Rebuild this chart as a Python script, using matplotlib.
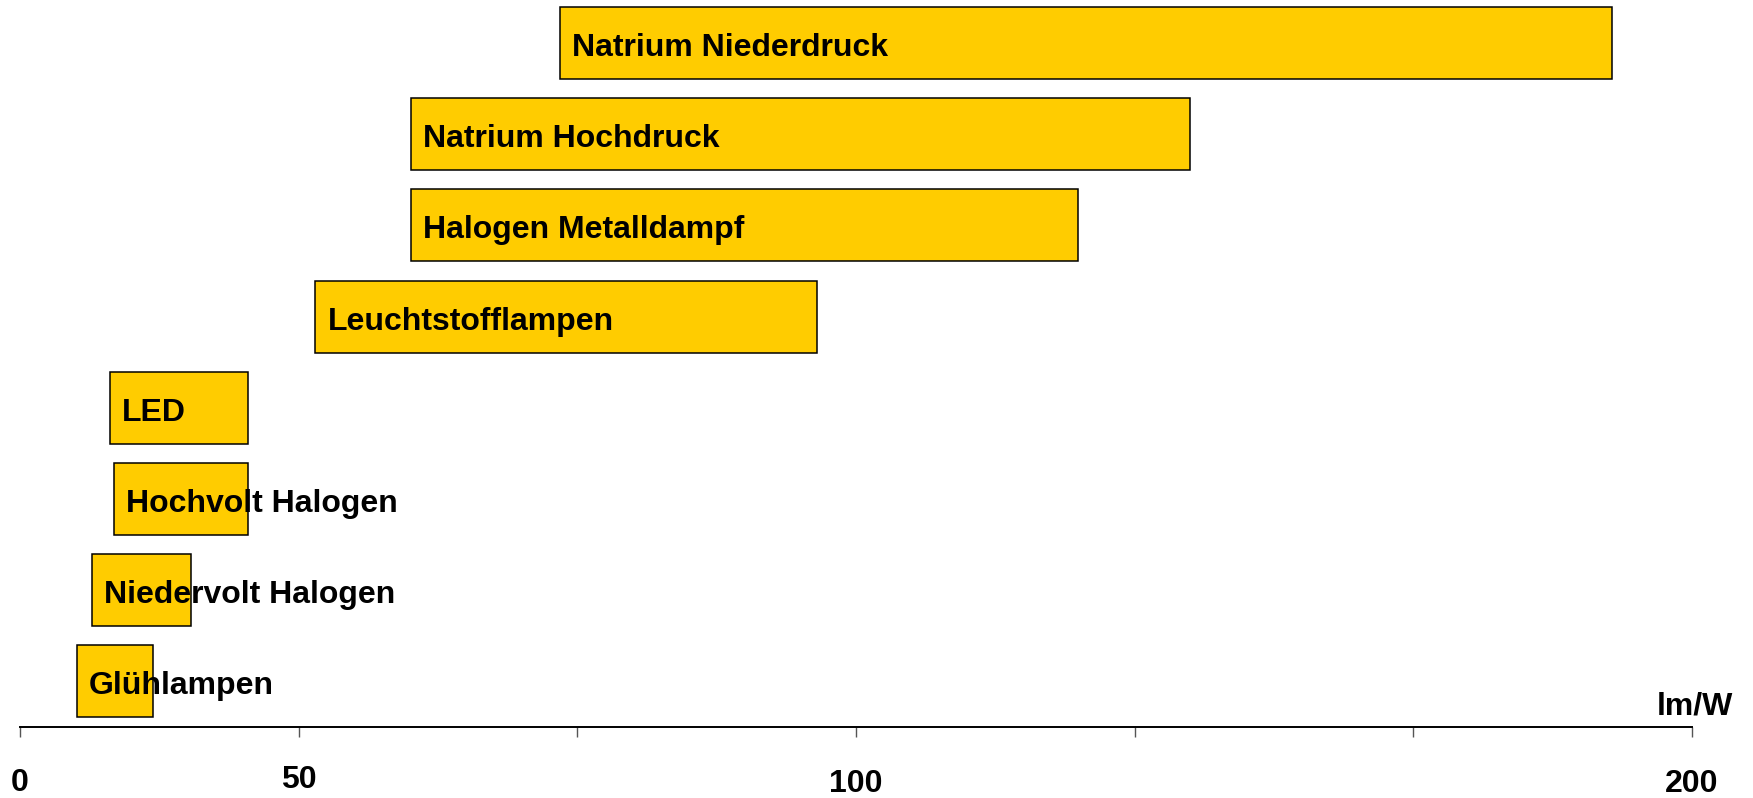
import matplotlib
matplotlib.use('Agg')

import numpy as np
import matplotlib.pyplot as plt

# Lichtausbeute der Lampentypen (von / bis in lm/W)
lampen = ['Glühlampen', 'Niedervolt Halogen', 'Hochvolt Halogen', 'LED',
          'Leuchtstofflampen', 'Halogen Metalldampf', 'Natrium Hochdruck',
          'Natrium Niederdruck']
von = [10.2, 12.9, 16.9, 16.1, 51.5, 60.1, 60.1, 73.4]
bis = [23.9, 30.7, 40.9, 40.9, 96.5, 126.6, 140.0, 190.4]

# Achse ist abschnittsweise gestaucht: 0-50, 50-100, 100-200
skala_lmw = [0, 50, 100, 200]
skala_pos = [0, 1, 3, 6]
tick_werte = [0, 50, 75, 100, 133.33, 166.67, 200]
tick_texte = ['0', '50', '', '100', '', '', '200']


def vorwaerts(x):
    return np.interp(x, skala_lmw, skala_pos)


def rueckwaerts(x):
    return np.interp(x, skala_pos, skala_lmw)


fig = plt.figure(figsize=(17.53, 7.98), dpi=100)
ax = fig.add_axes([0.01141, 0.0890, 0.9538, 0.9110])
ax.set_xscale('function', functions=(vorwaerts, rueckwaerts))

y = np.arange(len(lampen))
breite = [b - v for v, b in zip(von, bis)]
ax.barh(y, breite, left=von, height=0.79, color='#FFCC00',
        edgecolor='black', linewidth=1.1)

for i, name in enumerate(lampen):
    ax.annotate(name, (von[i], y[i]), xytext=(12, -5), textcoords='offset pixels',
                ha='left', va='center', fontsize=23, fontweight='bold',
                family='Liberation Sans')

ax.set_xlim(0, 200)
ax.set_ylim(-0.505, 7.475)

for s in ['top', 'right', 'left']:
    ax.spines[s].set_visible(False)
ax.spines['bottom'].set_linewidth(1.4)
ax.set_yticks([])

ax.set_xticks(tick_werte)
ax.set_xticklabels(tick_texte, fontsize=23, fontweight='bold', family='Liberation Sans')
ax.tick_params(axis='x', length=7.5, width=1.0, color='#555555', pad=22)
for tick, pad in zip(ax.xaxis.get_major_ticks(), [22, 20, 22, 23, 22, 22, 23]):
    tick.set_pad(pad)

fig.text(0.9885, 0.1050, 'lm/W', ha='right', va='baseline', fontsize=23,
         fontweight='bold', family='Liberation Sans')

fig.savefig('out.png', dpi=100)
